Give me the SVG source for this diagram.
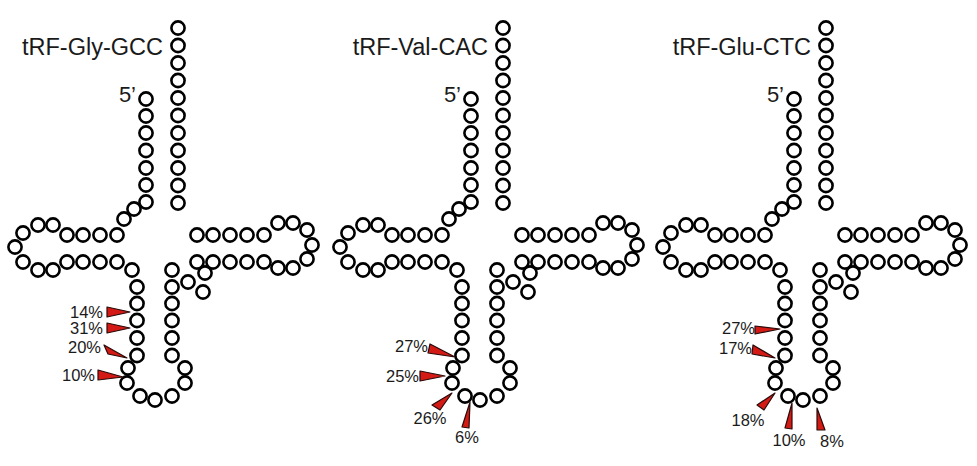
<svg xmlns="http://www.w3.org/2000/svg" xmlns:xlink="http://www.w3.org/1999/xlink" width="977" height="466" viewBox="0 0 977 466">
<style>
.n{fill:#fff;stroke:#000;stroke-width:2.6}
.t{font-family:"Liberation Sans",Arial,sans-serif;fill:#1a1a1a}
.title{font-size:23.5px}
.p{font-size:16.5px}
.a{fill:#d41a14;stroke:#2a0a0a;stroke-width:1.2;stroke-linejoin:round}
</style>
<defs>
<g id="trna">
<g class="n">
<circle cx="178" cy="28" r="6.6"/><circle cx="178" cy="45.5" r="6.6"/><circle cx="178" cy="63" r="6.6"/><circle cx="178" cy="80.5" r="6.6"/><circle cx="178" cy="98" r="6.6"/><circle cx="178" cy="115.5" r="6.6"/><circle cx="178" cy="133" r="6.6"/><circle cx="178" cy="150.5" r="6.6"/><circle cx="178" cy="168" r="6.6"/><circle cx="178" cy="185.5" r="6.6"/><circle cx="178" cy="203" r="6.6"/>
<circle cx="146" cy="99" r="6.6"/><circle cx="146" cy="116" r="6.6"/><circle cx="146" cy="133" r="6.6"/><circle cx="146" cy="150.5" r="6.6"/><circle cx="146" cy="168" r="6.6"/><circle cx="146" cy="185" r="6.6"/><circle cx="146" cy="202" r="6.6"/>
<circle cx="134" cy="209" r="6.6"/><circle cx="124" cy="219" r="6.6"/>
<circle cx="117" cy="235" r="6.6"/><circle cx="100" cy="235" r="6.6"/><circle cx="83" cy="235" r="6.6"/><circle cx="67" cy="235" r="6.6"/>
<circle cx="53" cy="225" r="6.6"/><circle cx="38" cy="225" r="6.6"/><circle cx="23" cy="233" r="6.6"/><circle cx="15" cy="247" r="6.6"/><circle cx="23" cy="262" r="6.6"/><circle cx="38" cy="270" r="6.6"/><circle cx="53" cy="270" r="6.6"/>
<circle cx="67" cy="262" r="6.6"/><circle cx="83" cy="262" r="6.6"/><circle cx="100" cy="262" r="6.6"/><circle cx="117" cy="262" r="6.6"/>
<circle cx="132" cy="270" r="6.6"/>
<circle cx="137" cy="287" r="6.6"/><circle cx="137" cy="303.5" r="6.6"/><circle cx="137" cy="320.5" r="6.6"/><circle cx="137" cy="338" r="6.6"/><circle cx="137" cy="355.5" r="6.6"/>
<circle cx="128" cy="368" r="6.6"/><circle cx="127" cy="383" r="6.6"/><circle cx="140" cy="396" r="6.6"/><circle cx="155" cy="400" r="6.6"/><circle cx="172" cy="396" r="6.6"/><circle cx="185" cy="383" r="6.6"/><circle cx="185" cy="368" r="6.6"/>
<circle cx="172" cy="355.5" r="6.6"/><circle cx="172" cy="338" r="6.6"/><circle cx="172" cy="320.5" r="6.6"/><circle cx="172" cy="303.5" r="6.6"/><circle cx="172" cy="287" r="6.6"/><circle cx="172" cy="270" r="6.6"/>
<circle cx="188" cy="282" r="6.6"/><circle cx="205" cy="273" r="6.6"/><circle cx="203" cy="292" r="6.6"/>
<circle cx="197" cy="262" r="6.6"/><circle cx="213" cy="262" r="6.6"/><circle cx="230" cy="262" r="6.6"/><circle cx="247" cy="262" r="6.6"/><circle cx="264" cy="262" r="6.6"/>
<circle cx="278" cy="268" r="6.6"/><circle cx="293" cy="268" r="6.6"/><circle cx="307" cy="259" r="6.6"/><circle cx="312" cy="245" r="6.6"/><circle cx="307" cy="230" r="6.6"/><circle cx="293" cy="223" r="6.6"/><circle cx="278" cy="223" r="6.6"/>
<circle cx="264" cy="235" r="6.6"/><circle cx="247" cy="235" r="6.6"/><circle cx="230" cy="235" r="6.6"/><circle cx="213" cy="235" r="6.6"/><circle cx="197" cy="235" r="6.6"/>
</g>
<text class="t" x="136" y="102" font-size="22" text-anchor="end">5’</text>
</g>
</defs>
<g id="tRF-Gly-GCC">
<use xlink:href="#trna"/>
<text class="t title" x="163" y="55" text-anchor="end">tRF-Gly-GCC</text>
<polygon class="a" points="107,307 107,317 130,312"/>
<text class="t p" x="103" y="318" text-anchor="end">14%</text>
<polygon class="a" points="107,323 107,333 130,328"/>
<text class="t p" x="103" y="334" text-anchor="end">31%</text>
<polygon class="a" points="104,345 108,354 127,358"/>
<text class="t p" x="101" y="353" text-anchor="end">20%</text>
<polygon class="a" points="98,370 98,380 123,377"/>
<text class="t p" x="95" y="381" text-anchor="end">10%</text>
</g>
<g id="tRF-Val-CAC">
<use xlink:href="#trna" x="325"/>
<text class="t title" x="488" y="55" text-anchor="end">tRF-Val-CAC</text>
<polygon class="a" points="430,344 428,353 455,357"/>
<text class="t p" x="428" y="352" text-anchor="end">27%</text>
<polygon class="a" points="420,371 420,381 445,376"/>
<text class="t p" x="419" y="382" text-anchor="end">25%</text>
<polygon class="a" points="432,405 440,410 452,393"/>
<text class="t p" x="430" y="424" text-anchor="middle">26%</text>
<polygon class="a" points="462,427 469,428 470,402"/>
<text class="t p" x="467" y="443" text-anchor="middle">6%</text>
</g>
<g id="tRF-Glu-CTC">
<use xlink:href="#trna" x="648"/>
<text class="t title" x="811" y="55" text-anchor="end">tRF-Glu-CTC</text>
<polygon class="a" points="755,326 755,334 780,329"/>
<text class="t p" x="755" y="334" text-anchor="end">27%</text>
<polygon class="a" points="753,345 752,354 775,358"/>
<text class="t p" x="752" y="354" text-anchor="end">17%</text>
<polygon class="a" points="757,405 764,410 775,393"/>
<text class="t p" x="748" y="426" text-anchor="middle">18%</text>
<polygon class="a" points="785,428 792,429 792,403"/>
<text class="t p" x="789" y="446" text-anchor="middle">10%</text>
<polygon class="a" points="817,430 825,430 817,408"/>
<text class="t p" x="832" y="447" text-anchor="middle">8%</text>
</g>
<g id="connectors"></g>
</svg>
